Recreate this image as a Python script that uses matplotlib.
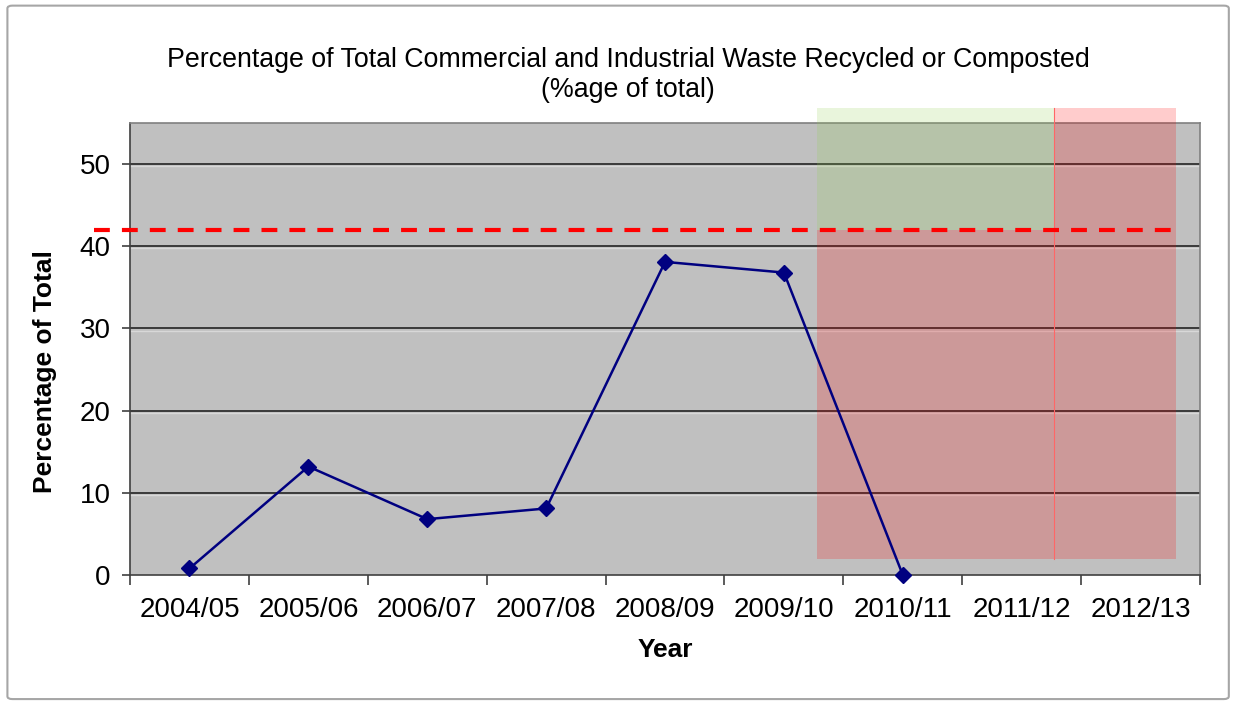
import matplotlib.pyplot as plt
import matplotlib.patches as mpatches
import numpy as np

# Data: share of commercial & industrial waste recycled or composted
years = ['2004/05', '2005/06', '2006/07', '2007/08', '2008/09',
         '2009/10', '2010/11', '2011/12', '2012/13']
pct_recycled = [0.8, 13.2, 6.8, 8.1, 38.1, 36.8, 0.0]
target_pct = 42
band_bottom = 2
band_top = 56.8
green_band = (5.28, 7.27)
red_band_end = 8.30

plt.rcParams['font.family'] = ['Liberation Sans', 'DejaVu Sans']

fig = plt.figure(figsize=(12.35, 7.04), dpi=100)

# outer chart frame
frame = mpatches.FancyBboxPatch((0.006, 0.007), 0.989, 0.985,
                                boxstyle='round,pad=0,rounding_size=0.004',
                                transform=fig.transFigure, facecolor='white',
                                edgecolor='#a6a6a6', linewidth=1.5, zorder=-10)
fig.patches.append(frame)

ax = fig.add_axes([0.1053, 0.1832, 0.8664, 0.6421])
ax.set_facecolor('#c0c0c0')

x = np.arange(len(years))
ax.set_xlim(-0.5, len(years) - 0.5)
ax.set_ylim(0, 55)

# horizontal gridlines
for yv in range(10, 60, 10):
    ax.axhline(yv, color='#3a3a3a', linewidth=1.4, zorder=1)
    ax.axhline(yv - 0.25, color='#d8d8d8', linewidth=1.0, zorder=1)

# shaded target periods
ax.add_patch(mpatches.Rectangle((green_band[0], target_pct), green_band[1] - green_band[0],
                                band_top - target_pct, facecolor=(0.573, 0.816, 0.314),
                                alpha=0.2, edgecolor='none', clip_on=False, zorder=3))
ax.add_patch(mpatches.Rectangle((green_band[0], band_bottom), green_band[1] - green_band[0],
                                target_pct - band_bottom, facecolor='red',
                                alpha=0.2, edgecolor='none', clip_on=False, zorder=3))
ax.add_patch(mpatches.Rectangle((green_band[1], band_bottom), red_band_end - green_band[1],
                                band_top - band_bottom, facecolor='red',
                                alpha=0.2, edgecolor='none', clip_on=False, zorder=3))
ax.plot([green_band[1], green_band[1]], [band_bottom, band_top], color='#ff6666',
        linewidth=0.8, clip_on=False, zorder=3)

# target line
ax.plot([-0.80, red_band_end], [target_pct, target_pct], color='red', linewidth=3.0,
        linestyle=(0, (3.8, 2.9)), clip_on=False, zorder=5)

# the series
ax.plot(x[:len(pct_recycled)], pct_recycled, color='#000080', linewidth=1.8,
        marker='D', markersize=8, markerfacecolor='#000080', markeredgecolor='#000080',
        clip_on=False, zorder=6)

# axes styling
for side in ['top', 'right']:
    ax.spines[side].set_color('#808080')
    ax.spines[side].set_linewidth(1.2)
for side in ['left', 'bottom']:
    ax.spines[side].set_color('#404040')
    ax.spines[side].set_linewidth(1.2)

ax.set_xticks(np.arange(-0.5, len(years), 1.0))
ax.set_xticklabels([])
ax.set_xticks(x, minor=True)
ax.set_xticklabels(years, minor=True, fontsize=20)
ax.tick_params(axis='x', which='major', length=7, color='#404040', width=1.2)
ax.tick_params(axis='x', which='minor', length=0, pad=16)
ax.set_yticks(range(0, 60, 10))
ax.tick_params(axis='y', labelsize=20, length=6, color='#404040', width=1.2, pad=8)

ax.set_xlabel('Year', fontsize=19, fontweight='bold')
ax.xaxis.set_label_coords(0.5, -0.14)
ax.set_ylabel('Percentage of Total', fontsize=19, fontweight='bold')
ax.yaxis.set_label_coords(-0.068, 0.45)

fig.text(0.5085, 0.915, 'Percentage of Total Commercial and Industrial Waste Recycled or Composted',
         ha='center', va='center', fontsize=19.3)
fig.text(0.5085, 0.872, '(%age of total)', ha='center', va='center', fontsize=19.3)

fig.savefig('out.png', dpi=100)
